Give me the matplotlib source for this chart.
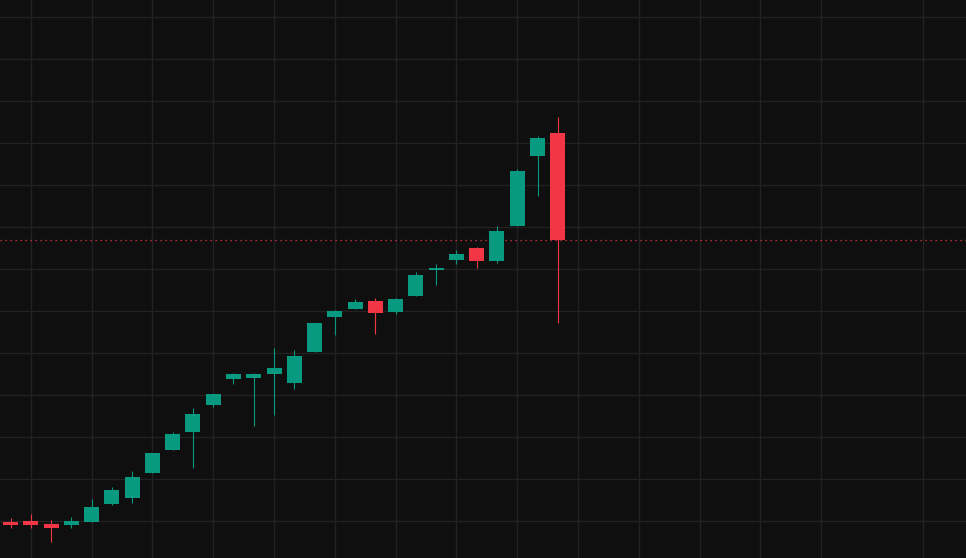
import numpy as np
import matplotlib
matplotlib.use("Agg")
import matplotlib.pyplot as plt

# OHLC values (price units, grid every 10)
opens = [9.8, 10.0, 9.3, 9.0, 9.8, 14.0, 15.5, 21.4, 26.9, 31.2,
         37.6, 43.8, 44.0, 45.0, 42.9, 50.2, 58.6, 60.5, 62.4, 59.8,
         63.6, 69.9, 72.1, 75.0, 71.9, 80.2, 96.9, 102.4]
highs = [10.7, 11.7, 10.2, 11.0, 15.2, 18.1, 21.9, 26.2, 31.2, 36.9,
         40.2, 45.2, 45.2, 51.2, 50.7, 57.1, 60.2, 62.9, 63.1, 63.1,
         69.3, 71.2, 74.5, 75.2, 80.2, 94.0, 101.7, 106.2]
lows = [8.3, 8.3, 5.0, 8.3, 9.8, 13.8, 14.3, 21.4, 26.9, 22.6,
        37.1, 42.6, 32.6, 35.2, 41.4, 50.2, 54.3, 60.5, 54.5, 59.3,
        63.6, 66.2, 71.2, 70.2, 71.4, 80.2, 87.4, 57.1]
closes = [9.0, 9.0, 8.3, 10.0, 13.3, 17.4, 20.5, 26.2, 30.7, 35.5,
          40.2, 45.0, 45.0, 46.4, 49.3, 57.1, 60.0, 62.1, 59.5, 62.9,
          68.6, 70.0, 73.6, 71.9, 79.0, 93.3, 101.2, 76.9]

grid_x = [1, 4, 7, 10, 13, 16, 19, 22, 25, 28, 31, 34, 37, 40, 45]
grid_y = [10, 20, 30, 40, 50, 60, 70, 80, 90, 100, 110, 120, 130]

UP = "#089981"
DOWN = "#f23645"
BG = "#0f0f0f"
GRID = "#222222"

fig = plt.figure(figsize=(9.66, 5.58), dpi=100, facecolor=BG)
ax = fig.add_axes([0, 0, 1, 1], facecolor=BG)

for gx in grid_x:
    ax.axvline(gx, color=GRID, lw=1.0, zorder=0)
for gy in grid_y:
    ax.axhline(gy, color=GRID, lw=1.0, zorder=0)

x = np.arange(len(opens))
o = np.array(opens)
c = np.array(closes)
colors = [UP if cc >= oo else DOWN for oo, cc in zip(o, c)]

ax.vlines(x, lows, highs, colors=colors, lw=0.8, zorder=2)
bottom = np.minimum(o, c)
height = np.maximum(np.abs(c - o), 0.3)
ax.bar(x, height, bottom=bottom, width=0.74, color=colors, lw=0, zorder=3)

# last price line
ax.axhline(closes[-1], color=DOWN, lw=0.9, ls=(0, (1, 3)), zorder=1)

ax.set_xlim(-0.52, 47.14)
ax.set_ylim(1.26, 134.12)
ax.axis("off")

fig.savefig("out.png", dpi=100, facecolor=BG)
